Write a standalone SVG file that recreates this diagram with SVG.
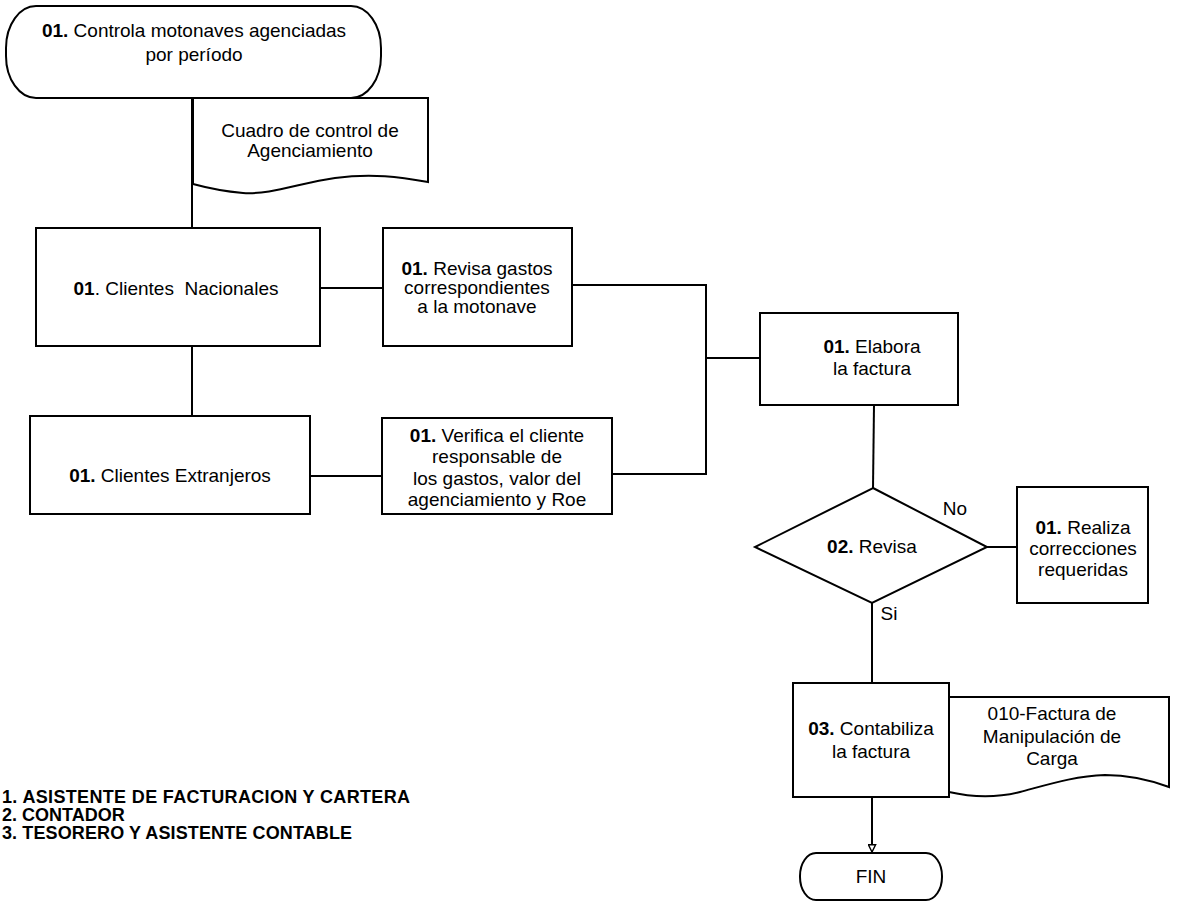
<svg xmlns="http://www.w3.org/2000/svg" width="1179" height="905" viewBox="0 0 1179 905">
  <style>
    .shape { fill: #ffffff; stroke: #000000; stroke-width: 2; }
    .wire { fill: none; stroke: #000000; stroke-width: 2; }
    .lbl { font-family: "Liberation Sans", Arial, sans-serif; font-size: 19px; fill: #000000; text-anchor: middle; }
    .lbl .b { font-weight: bold; }
    .legend { font-family: "Liberation Sans", Arial, sans-serif; font-size: 18px; font-weight: bold; fill: #000000; }
  </style>
  <defs>
    <marker id="arrowOpen" viewBox="0 0 10 10" refX="9" refY="5" markerWidth="9" markerHeight="9" orient="auto" markerUnits="userSpaceOnUse">
      <path d="M1,1 L9,5 L1,9 Z" fill="#ffffff" stroke="#000000" stroke-width="1.6"/>
    </marker>
  </defs>
  <rect width="1179" height="905" fill="#ffffff"/>

  <!-- connectors -->
  <g id="connectors">
    <line class="wire" x1="192" y1="98" x2="192" y2="228"/>
    <line class="wire" x1="192" y1="346" x2="192" y2="416"/>
    <line class="wire" x1="320" y1="288" x2="383" y2="288"/>
    <line class="wire" x1="310" y1="476" x2="382" y2="476"/>
    <polyline class="wire" points="572,285 706,285 706,474 612,474"/>
    <line class="wire" x1="706" y1="358" x2="760" y2="358"/>
    <line class="wire" x1="874" y1="405" x2="873" y2="488"/>
    <line class="wire" x1="987" y1="547" x2="1017" y2="547"/>
    <line class="wire" x1="872" y1="603" x2="872" y2="683"/>
    <line class="wire" x1="872" y1="797" x2="872" y2="852" marker-end="url(#arrowOpen)"/>
    <text class="lbl" x="955" y="515">No</text>
    <text class="lbl" x="889" y="620">Si</text>
  </g>

  <!-- start terminator -->
  <g id="start">
    <rect class="shape" x="6" y="6" width="375" height="92" rx="30" ry="42"/>
    <text class="lbl" x="194" y="37"><tspan class="b">01.</tspan> Controla motonaves agenciadas</text>
    <text class="lbl" x="194" y="61">por período</text>
  </g>

  <!-- control sheet document -->
  <g id="doc-cuadro">
    <path class="shape" d="M193,98 H428 V182 C400,177 372,173 335,178 C300,183 270,195 243,193 C220,191 204,187 193,184 Z"/>
    <text class="lbl" x="310" y="137">Cuadro de control de</text>
    <text class="lbl" x="310" y="157">Agenciamiento</text>
  </g>

  <g id="clientes-nacionales">
    <rect class="shape" x="36" y="228" width="284" height="118"/>
    <text class="lbl" x="176" y="295" xml:space="preserve"><tspan class="b">01</tspan>. Clientes  Nacionales</text>
  </g>

  <g id="revisa-gastos">
    <rect class="shape" x="383" y="228" width="189" height="118"/>
    <text class="lbl" x="477" y="275"><tspan class="b">01.</tspan> Revisa gastos</text>
    <text class="lbl" x="477" y="294">correspondientes</text>
    <text class="lbl" x="477" y="313">a la motonave</text>
  </g>

  <g id="clientes-extranjeros">
    <rect class="shape" x="30" y="416" width="280" height="98"/>
    <text class="lbl" x="170" y="482"><tspan class="b">01.</tspan> Clientes Extranjeros</text>
  </g>

  <g id="verifica-cliente">
    <rect class="shape" x="382" y="418" width="230" height="96"/>
    <text class="lbl" x="497" y="442"><tspan class="b">01.</tspan> Verifica el cliente</text>
    <text class="lbl" x="497" y="463">responsable de</text>
    <text class="lbl" x="497" y="485">los gastos, valor del</text>
    <text class="lbl" x="497" y="506">agenciamiento y Roe</text>
  </g>

  <g id="elabora-factura">
    <rect class="shape" x="760" y="313" width="198" height="92"/>
    <text class="lbl" x="872" y="353"><tspan class="b">01.</tspan> Elabora</text>
    <text class="lbl" x="872" y="375">la factura</text>
  </g>

  <g id="revisa-decision">
    <polygon class="shape" points="873,488 987,547 872,603 755,547"/>
    <text class="lbl" x="872" y="553"><tspan class="b">02.</tspan> Revisa</text>
  </g>

  <g id="realiza-correcciones">
    <rect class="shape" x="1017" y="487" width="131" height="116"/>
    <text class="lbl" x="1083" y="534"><tspan class="b">01.</tspan> Realiza</text>
    <text class="lbl" x="1083" y="555">correcciones</text>
    <text class="lbl" x="1083" y="576">requeridas</text>
  </g>

  <g id="contabiliza-factura">
    <rect class="shape" x="793" y="683" width="156" height="114"/>
    <text class="lbl" x="871" y="735"><tspan class="b">03.</tspan> Contabiliza</text>
    <text class="lbl" x="871" y="758">la factura</text>
  </g>

  <!-- invoice document -->
  <g id="doc-factura">
    <path class="shape" d="M949,697 H1169 V787 C1150,780 1130,775 1105,775 C1075,776 1050,784 1020,792 C1000,797 975,798 949,792 Z"/>
    <text class="lbl" x="1052" y="720">010-Factura de</text>
    <text class="lbl" x="1052" y="743">Manipulación de</text>
    <text class="lbl" x="1052" y="765">Carga</text>
  </g>

  <g id="fin">
    <rect class="shape" x="800" y="853" width="142" height="47" rx="16" ry="23"/>
    <text class="lbl" x="871" y="883">FIN</text>
  </g>

  <!-- roles -->
  <g id="legend">
    <text class="legend" x="2" y="803" textLength="408" lengthAdjust="spacing">1. ASISTENTE DE FACTURACION Y CARTERA</text>
    <text class="legend" x="2" y="821">2. CONTADOR</text>
    <text class="legend" x="2" y="839" textLength="350" lengthAdjust="spacing">3. TESORERO Y ASISTENTE CONTABLE</text>
  </g>
</svg>
